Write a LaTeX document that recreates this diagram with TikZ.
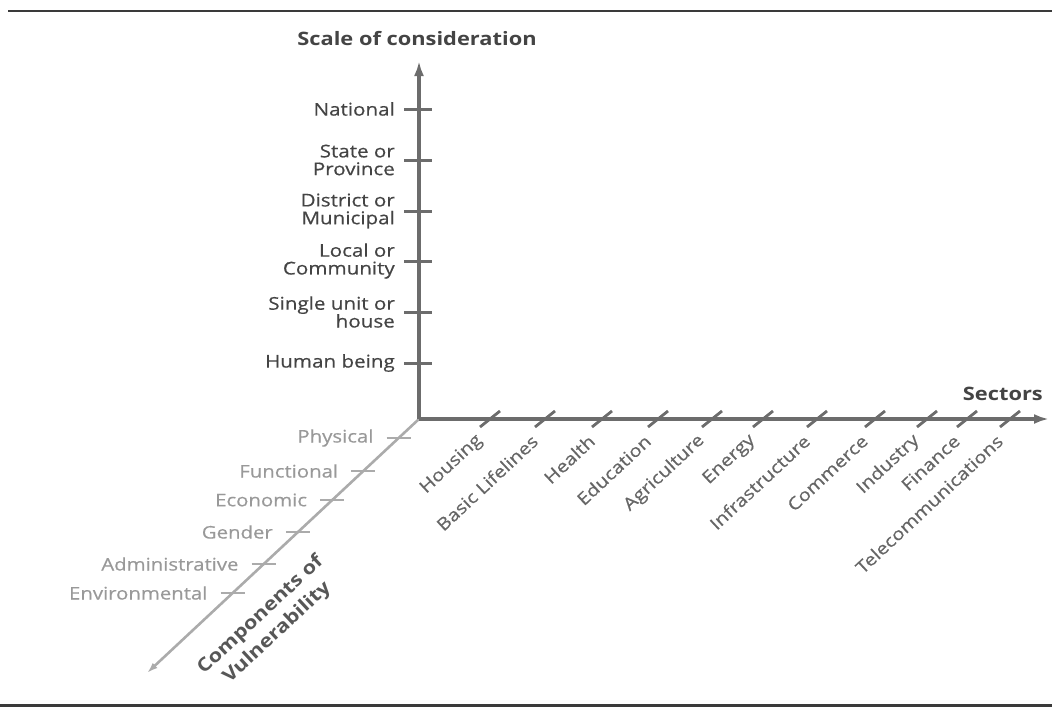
\documentclass[tikz,border=0pt]{standalone}
\usepackage{fontspec}
\usepackage{graphicx}
\setmainfont{Open Sans}[FakeStretch=1.18]
\newfontfamily\labelfont{Open Sans}[FakeStretch=1.17, FakeBold=0.5]
\newfontfamily\slantfont{Open Sans}[FakeBold=0.5]
\newfontfamily\slantbold{Open Sans Bold}
\usetikzlibrary{arrows.meta}

\definecolor{axisdark}{HTML}{6C6C6C}
\definecolor{axislight}{HTML}{ABABAB}
\definecolor{textdark}{HTML}{444444}
\definecolor{textmid}{HTML}{666666}
\definecolor{textlight}{HTML}{999999}
\definecolor{rulecol}{HTML}{3A3A3A}

% widen a rotated label without distorting its angle
\newcommand{\widelabel}[1]{\scalebox{1.17}[1]{#1}}

\begin{document}
\begin{tikzpicture}[x=1pt,y=-1pt,
  pagerule/.style={draw=rulecol},
  mainaxis/.style={draw=axisdark, line width=3.6pt},
  compaxis/.style={draw=axislight, line width=2.6pt},
  vtick/.style={draw=axisdark, line width=3pt},
  stick/.style={draw=axisdark, line width=2.8pt},
  ctick/.style={draw=axislight, line width=2.8pt},
  vlbl/.style={font=\labelfont\fontsize{17.6}{17.8}\selectfont, text=textdark, inner sep=0pt, align=right, anchor=east},
  slbl/.style={font=\slantfont\fontsize{17.2}{18}\selectfont, text=textmid, inner sep=0pt, anchor=east, rotate=43},
  clbl/.style={font=\labelfont\fontsize{17.4}{18}\selectfont, text=textlight, inner sep=0pt, anchor=east},
  heading/.style={font=\fontsize{18.5}{20}\selectfont\bfseries, text=textdark, inner sep=0pt}
]
\useasboundingbox (0,0) rectangle (1052,707);

% page rules above and below the figure
\coordinate (topL) at (8,11);
\coordinate (topR) at (1052,11);
\coordinate (botL) at (0,705);
\coordinate (botR) at (1052,705);
\draw[pagerule, line width=1.4pt] (topL) -- (topR);
\draw[pagerule, line width=3pt] (botL) -- (botR);

% axes
\coordinate (O) at (419,419);
\coordinate (vtip) at (419,61);
\coordinate (htip) at (1049,419);
\coordinate (dtip) at (147,673);

\draw[compaxis, -{Latex[length=11pt,width=7pt]}] (O) -- (dtip);
\draw[mainaxis, -{Latex[length=15pt,width=10pt]}] (O) -- (vtip);
\draw[mainaxis, -{Latex[length=15pt,width=10pt]}] (O) -- (htip);

% axis titles
\node[heading] (scaletitle) at (417,39) {Scale of consideration};
\node[heading, anchor=east] (sectitle) at (1043,394) {Sectors};
\node[text=textdark!90, inner sep=0pt, rotate=43, font=\slantbold\fontsize{18.5}{22}\selectfont]
  (comptitle) at (269,624)
  {\widelabel{\renewcommand{\arraystretch}{1.1}\begin{tabular}{@{}c@{}}Components of\\Vulnerability\end{tabular}}};

% scale of consideration
\foreach \y/\nm/\t in {109/nat/National,
                       160/state/State or\\Province,
                       211/dist/District or\\Municipal,
                       261/loc/Local or\\Community,
                       312/unit/Single unit or\\house,
                       363/human/Human being}{
  \coordinate (\nm-a) at (404,\y);
  \coordinate (\nm-b) at (432,\y);
  \draw[vtick] (\nm-a) -- (\nm-b);
  \node[vlbl] (\nm) at (395,\y) {\t};
}

% sectors
\foreach \x/\nm/\t in {490/hous/Housing,
                       545/life/Basic Lifelines,
                       602/heal/Health,
                       658/edu/Education,
                       712/agri/Agriculture,
                       763/ener/Energy,
                       817/infra/Infrastructure,
                       875/comm/Commerce,
                       927/ind/Industry,
                       967/fin/Finance,
                       1010/tele/Telecommunications}{
  \coordinate (\nm-a) at ({\x-10},427);
  \coordinate (\nm-b) at ({\x+10},411);
  \draw[stick] (\nm-a) -- (\nm-b);
  \node[slbl] (\nm) at ({\x-10},438) {\widelabel{\t}};
}

% components of vulnerability
\foreach \y/\nm/\t in {438/phys/Physical,
                       471/func/Functional,
                       500/econ/Economic,
                       532/gend/Gender,
                       564/admin/Administrative,
                       593/env/Environmental}{
  \pgfmathsetmacro{\ax}{419-(\y-419)*1.0711}
  \coordinate (\nm-a) at ({\ax-12},\y);
  \coordinate (\nm-b) at ({\ax+12},\y);
  \draw[ctick] (\nm-a) -- (\nm-b);
  \node[clbl] (\nm) at ({\ax-25},\y) {\t};
}
\end{tikzpicture}
\end{document}
